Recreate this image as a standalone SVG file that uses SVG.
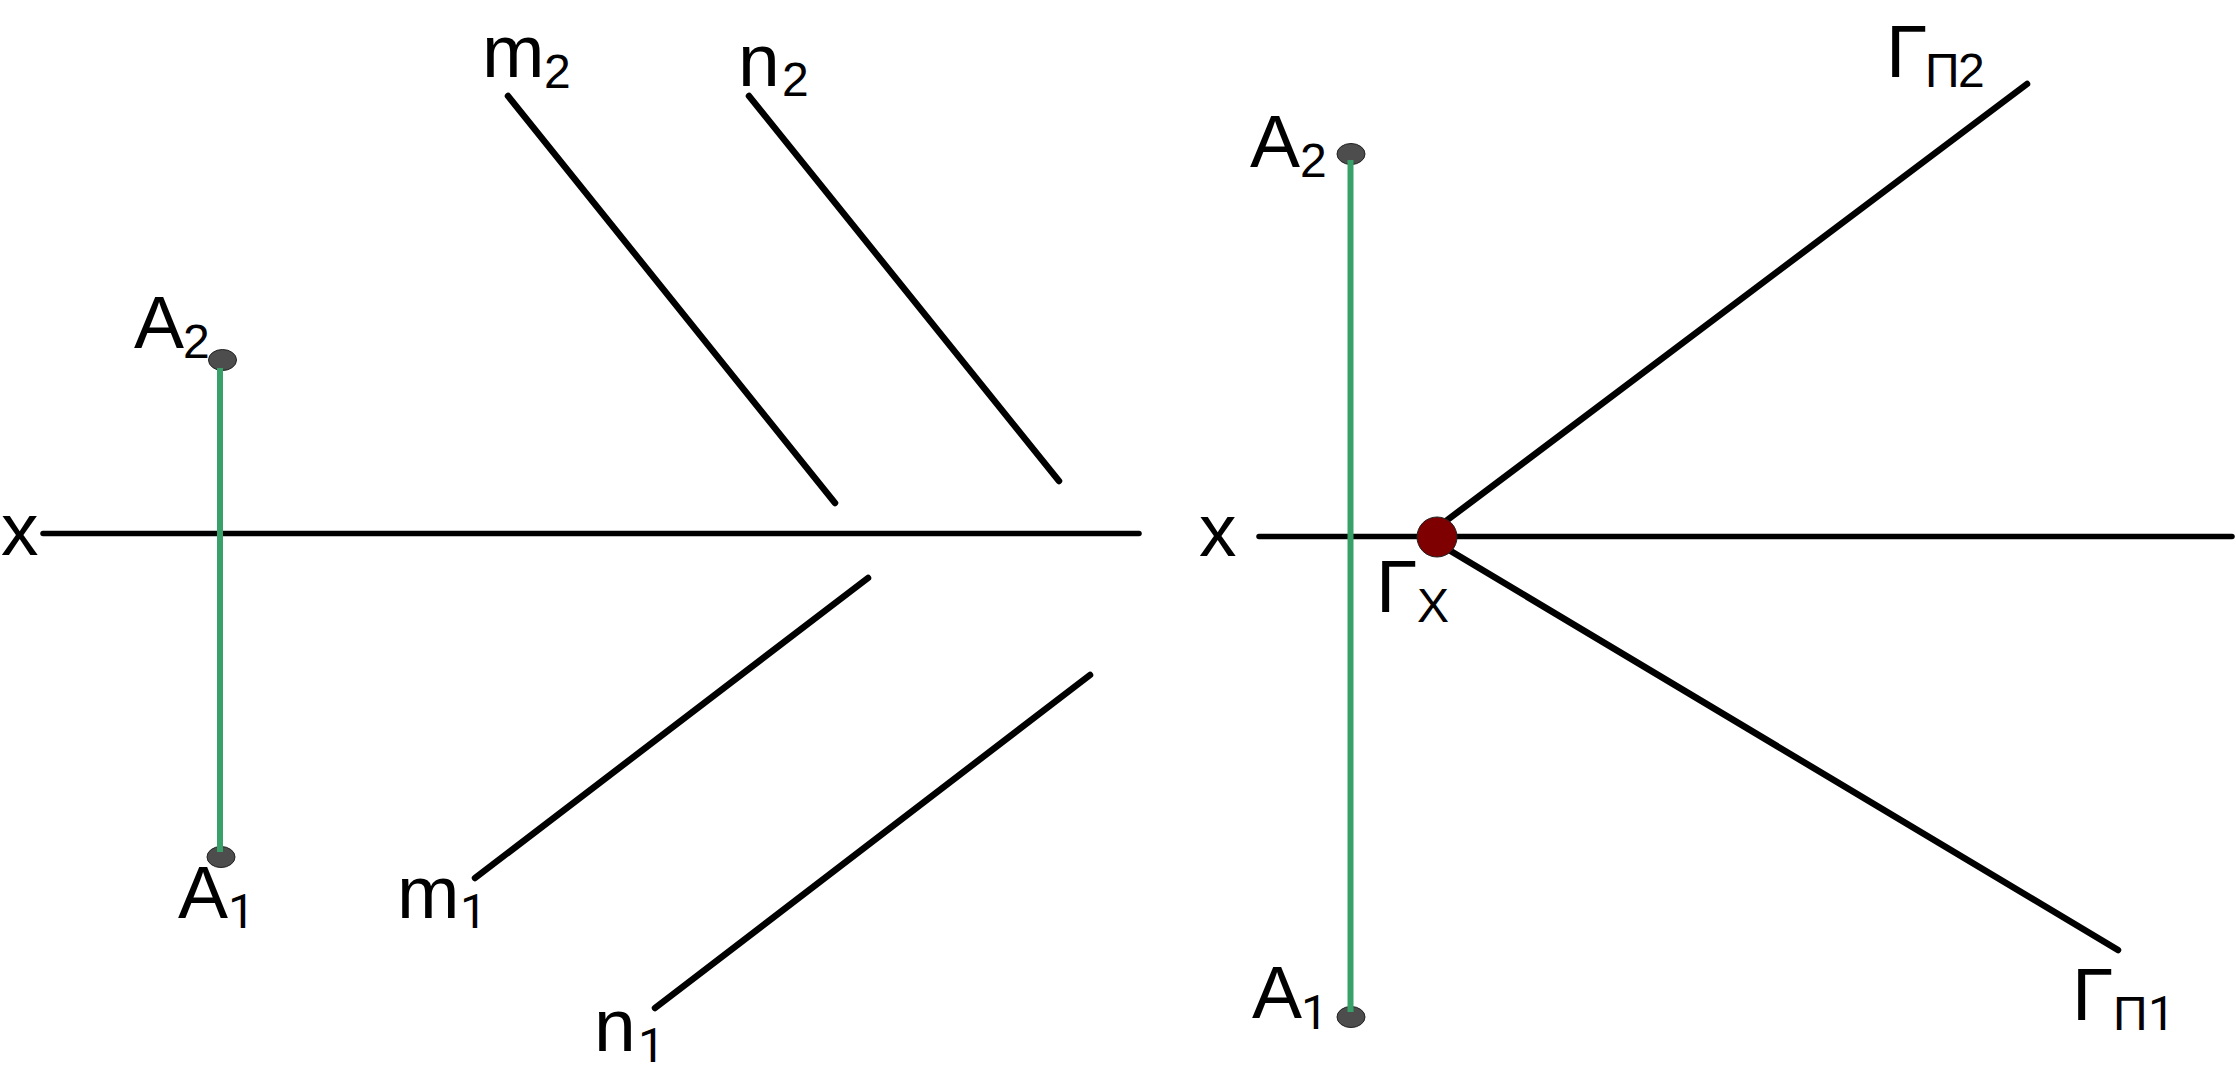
<svg xmlns="http://www.w3.org/2000/svg" width="2236" height="1077" viewBox="0 0 2236 1077">
<style>
text{font-family:"Liberation Sans",Arial,sans-serif;font-size:75px;fill:#000}
.s{font-size:48px}
.r{font-size:48px;font-family:Roboto,sans-serif}
.k{stroke:#000;stroke-linecap:round;fill:none}
.h{stroke-width:5.5}
.d{stroke-width:6.5}
.g{stroke:#38a169;stroke-width:6;fill:none}
.p{fill:#4d4d4d;stroke:#222;stroke-width:1}
</style>
<rect width="2236" height="1077" fill="#fff"/>
<g id="connectors">
<line class="k h" x1="43" y1="533.5" x2="1139" y2="533.5"/>
<line class="k h" x1="1259" y1="536.5" x2="2232" y2="536.5"/>
<line class="k d" x1="508" y1="96" x2="835" y2="503"/>
<line class="k d" x1="749" y1="96" x2="1059" y2="481"/>
<line class="k d" x1="868" y1="578" x2="475" y2="878"/>
<line class="k d" x1="1090" y1="675" x2="655" y2="1008"/>
<line class="k d" x1="1446" y1="521" x2="2027" y2="84"/>
<line class="k d" x1="1449" y1="550" x2="2118" y2="950"/>
</g>
<g id="point-a2-left"><ellipse class="p" cx="222.5" cy="360" rx="14" ry="10.5"/><text x="134" y="348">A<tspan class="s" x="183" y="358">2</tspan></text></g>
<g id="point-a1-left"><ellipse class="p" cx="221" cy="857" rx="14" ry="10.5"/><text x="178" y="918">A<tspan class="r" x="228" y="928">1</tspan></text></g>
<line class="g" x1="220" y1="368" x2="220" y2="852"/>
<g id="point-a2-right"><ellipse class="p" cx="1351" cy="154" rx="14" ry="10.5"/><text x="1250" y="167">A<tspan class="s" x="1300" y="177">2</tspan></text></g>
<g id="point-a1-right"><ellipse class="p" cx="1351" cy="1017" rx="14" ry="10.5"/><text x="1252" y="1018">A<tspan class="r" x="1301" y="1029">1</tspan></text></g>
<line class="g" x1="1350.5" y1="160" x2="1350.5" y2="1012"/>
<g id="gamma-x"><circle cx="1437" cy="537" r="20" fill="#7f0000" stroke="#222" stroke-width="1"/><text x="1376" y="612">Γ<tspan class="s" x="1417" y="622">X</tspan></text></g>
<g id="label-x-left"><text x="1" y="555">x</text></g>
<g id="label-x-right"><text x="1199" y="556">x</text></g>
<g id="label-m2"><text x="482" y="77">m<tspan class="s" x="544" y="88">2</tspan></text></g>
<g id="label-n2"><text x="738" y="86">n<tspan class="s" x="782" y="96">2</tspan></text></g>
<g id="label-m1"><text x="397" y="918">m<tspan class="r" x="460" y="928">1</tspan></text></g>
<g id="label-n1"><text x="594" y="1051">n<tspan class="r" x="638" y="1062">1</tspan></text></g>
<g id="label-gamma-p2"><text x="1886" y="77">Γ<tspan class="s" x="1925" y="87">П<tspan x="1958">2</tspan></tspan></text></g>
<g id="label-gamma-p1"><text x="2072" y="1020">Γ<tspan class="s" x="2113" y="1030">П</tspan><tspan class="r" x="2148" y="1030">1</tspan></text></g>
</svg>
